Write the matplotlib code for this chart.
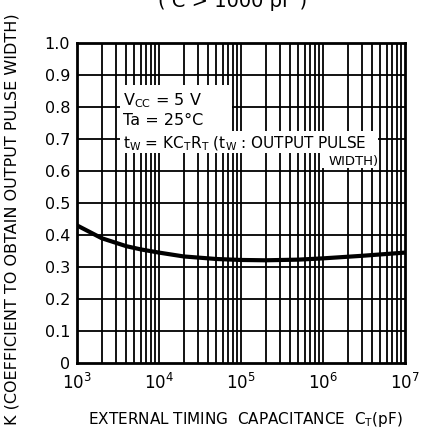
import matplotlib.pyplot as plt
import numpy as np
from matplotlib.patches import Rectangle

# K coefficient vs external timing capacitance
cap_pf = [1e3, 2e3, 4e3, 6e3, 1e4, 2e4, 5e4, 1e5, 2e5, 5e5, 1e6, 3e6, 1e7]
k_coef = [0.43, 0.39, 0.365, 0.355, 0.345, 0.333, 0.325, 0.322, 0.321, 0.323, 0.327, 0.335, 0.345]

y_ticks = [0, 0.1, 0.2, 0.3, 0.4, 0.5, 0.6, 0.7, 0.8, 0.9, 1.0]
y_tick_labels = ["0", "0.1", "0.2", "0.3", "0.4", "0.5", "0.6", "0.7", "0.8", "0.9", "1.0"]
x_ticks = [1e3, 1e4, 1e5, 1e6, 1e7]
x_tick_labels = [r"$10^3$", r"$10^4$", r"$10^5$", r"$10^6$", r"$10^7$"]

plt.rcParams['mathtext.fontset'] = 'dejavusans'

fig = plt.figure(figsize=(4.26, 4.34), dpi=100)
ax = fig.add_axes([77 / 426, 71 / 434, 328 / 426, 320 / 434])

ax.set_xscale('log')
ax.set_xlim(1e3, 1e7)
ax.set_ylim(0, 1.0)

# heavy log grid like graph paper
for dec in [1e3, 1e4, 1e5, 1e6]:
    for m in range(2, 10):
        ax.axvline(dec * m, color='black', lw=1.3, zorder=1)
    ax.axvline(dec, color='black', lw=1.3, zorder=1)
for y in y_ticks[1:-1]:
    ax.axhline(y, color='black', lw=1.3, zorder=1)

# white patches behind the annotation text
def px_box(x0, y0, x1, y1):
    ax0 = (x0 - 77) / 328
    ax1 = (x1 - 77) / 328
    ay0 = (363 - y1) / 320
    ay1 = (363 - y0) / 320
    ax.add_patch(Rectangle((ax0, ay0), ax1 - ax0, ay1 - ay0, transform=ax.transAxes,
                           facecolor='white', edgecolor='none', zorder=2))

px_box(120, 85, 232, 131)
px_box(120, 131, 378, 153)
px_box(320, 153, 378, 168)

ax.plot(cap_pf, k_coef, color='black', lw=3, zorder=3)

def fig_text(px, py, s, size):
    fig.text(px / 426, 1 - py / 434, s, fontsize=size, ha='left', va='baseline', zorder=5)

fig_text(123, 105, r"$\mathrm{V_{CC}}$ = 5 V", 11.5)
fig_text(123, 125, "Ta = 25°C", 11.5)
fig_text(123, 148, r"$\mathrm{t_W}$ = K$\mathrm{C_T R_T}$ ($\mathrm{t_W}$ : OUTPUT PULSE", 11)
fig_text(329, 165, "WIDTH)", 9.5)

ax.set_yticks(y_ticks)
ax.set_yticklabels(y_tick_labels, fontsize=11.5)
ax.set_xticks(x_ticks)
ax.set_xticklabels(x_tick_labels, fontsize=12)
ax.minorticks_off()
ax.tick_params(axis='y', length=0, pad=5)
ax.tick_params(axis='x', length=0, pad=7)
for s in ax.spines.values():
    s.set_linewidth(2)
    s.set_zorder(4)

fig.text(233 / 426, 1 - 7 / 434, "( C > 1000 pF )", fontsize=14, ha='center', va='baseline')
fig.text(12 / 426, 215 / 434, "K (COEFFICIENT TO OBTAIN OUTPUT PULSE WIDTH)", rotation=90,
         fontsize=11.5, ha='center', va='center')
fig.text(245 / 426, 1 - 424 / 434, r"EXTERNAL TIMING  CAPACITANCE  $\mathrm{C_T}$(pF)",
         fontsize=11, ha='center', va='baseline')

fig.savefig('out.png', dpi=100)
